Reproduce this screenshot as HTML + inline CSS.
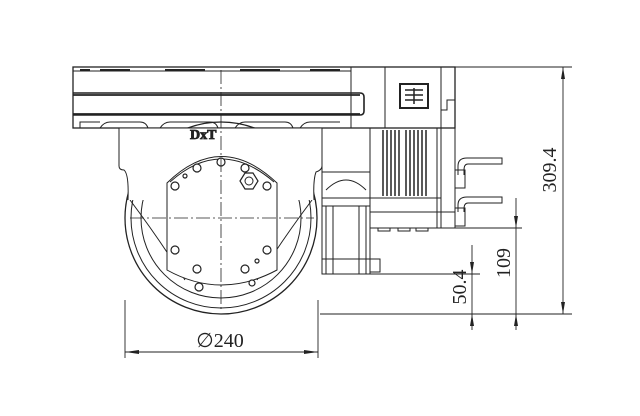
<!DOCTYPE html>
<html><head><style>
html,body{margin:0;padding:0;background:#fff;}
svg{display:block}
text{font-family:"Liberation Serif",serif;fill:#222}
</style></head><body>
<svg width="640" height="416" viewBox="0 0 640 416" xmlns="http://www.w3.org/2000/svg">
<g fill="none" stroke="#222" stroke-width="1">
<!-- top plate -->
<rect x="73" y="67" width="382" height="61" stroke-width="1.3"/>
<line x1="73" y1="71" x2="351" y2="71"/>
<path d="M73 93 H360 Q364 93 364 97 V111 Q364 115 360 115 H73" stroke-width="1.6"/>
<line x1="73" y1="95" x2="360" y2="95" stroke-width="1.8"/>
<line x1="73" y1="114" x2="360" y2="114" stroke-width="1.8"/>
<line x1="351" y1="67" x2="351" y2="128"/>
<line x1="385" y1="67" x2="385" y2="128"/>
<line x1="441" y1="67" x2="441" y2="128"/>
<rect x="400" y="84" width="28" height="24" stroke-width="2"/>
<path d="M405 90h18M405 95h18M405 100h18M414 88v16" stroke-width="1.5"/>
<path d="M441 110 h6 v-10 h8" />
<path d="M80 70h10M100 70h30M165 70h40M240 70h40M310 70h30" stroke-width="2"/>
<path d="M80 128 v-6 h20 M100 128 q4-6 10-6 h30 q6 0 8 6 M160 128 q4-6 10-6 h40 q6 0 8 6 M235 128 q4-6 10-6 h40 q6 0 8 6 M300 128 q4-6 10-6 h30"/>
<!-- wheel -->
<circle cx="221" cy="218" r="96" stroke-width="1.3"/>
<circle cx="221" cy="218" r="90"/>
<circle cx="221" cy="218" r="80"/>
<path d="M130 200 Q160 240 185 280 M312 200 Q282 240 257 280"/>
<!-- body covering top of wheel -->
<path d="M119 128 V166 Q119 170 124 170 Q129 174 128 200 H314 Q313 180 316 172 Q322 170 322 166 V128 Z" fill="#fff" stroke="none"/>
<path d="M119 128 V166 Q119 170 124 170 Q129 174 128 200 M322 128 V166 Q322 170 316 172 Q313 180 314 200"/>
<line x1="119" y1="128" x2="322" y2="128"/>
<text x="190" y="139" font-size="14" font-weight="bold" fill="none" stroke="#222" stroke-width="0.8">DxT</text>
<!-- hub plate -->
<path d="M167 183 Q221 130 277 183 V270 Q221 300 167 270 Z" fill="#fff"/>
<path d="M170 182 Q221 136 274 182"/>
<g fill="#fff" stroke-width="1.2">
<circle cx="221" cy="162" r="4"/><circle cx="197" cy="168" r="4"/><circle cx="245" cy="168" r="4"/>
<circle cx="175" cy="186" r="4"/><circle cx="267" cy="186" r="4"/>
<circle cx="175" cy="250" r="4"/><circle cx="267" cy="250" r="4"/>
<circle cx="197" cy="269" r="4"/><circle cx="245" cy="269" r="4"/>
<circle cx="199" cy="287" r="4"/><circle cx="252" cy="283" r="3"/>
<circle cx="185" cy="176" r="2"/><circle cx="257" cy="261" r="2"/>
</g>
<path d="M240 181 l5-8 h8 l5 8 l-5 8 h-8 z" fill="#fff" stroke-width="1.2"/>
<circle cx="249" cy="181" r="4"/>
<path d="M221 70 V310 M130 218 H314" stroke-dasharray="14 3 2 3" stroke-width="0.8"/>
<!-- motor lower module -->
<rect x="322" y="128" width="48" height="146"/>
<path d="M322 172 H370 M326 190 Q346 170 366 190 M322 198 H370 M322 206 H370"/>
<path d="M326 206 V274 M333 206 V274 M359 206 V274 M366 206 V274 M322 259 H380 V272 H370"/>
<!-- motor box -->
<rect x="370" y="128" width="71" height="100"/>
<path d="M441 128 V228 H455 V67"/>
<path d="M370 198 H441 M370 212 H455 M437 128 V228"/>
<g stroke-width="1.5"><path d="M383 130V196M387 130V196M391 130V196M395 130V196M399 130V196M406 130V196M410 130V196M414 130V196M418 130V196M422 130V196M426 130V196"/></g>
<path d="M378 228 v3 h12 v-3 M398 228 v3 h12 v-3 M416 228 v3 h12 v-3"/>
<!-- cables -->
<path d="M458 175 V166 Q458 158 467 158 H502 V164 H468 Q464 164 464 170 V175"/>
<path d="M458 212 V205 Q458 197 467 197 H502 V203 H468 Q464 203 464 209 V212"/>
<rect x="455" y="170" width="10" height="18"/><rect x="455" y="208" width="10" height="18"/>
<!-- dimension lines -->
<g stroke-width="0.9">
<line x1="455" y1="67" x2="572" y2="67"/>
<line x1="320" y1="314" x2="572" y2="314"/>
<line x1="370" y1="274" x2="480" y2="274"/>
<line x1="441" y1="228" x2="522" y2="228"/>
<line x1="563" y1="67" x2="563" y2="314"/>
<line x1="516" y1="198" x2="516" y2="330"/>
<line x1="472" y1="245" x2="472" y2="330"/>
<line x1="125" y1="300" x2="125" y2="358"/>
<line x1="318" y1="300" x2="318" y2="358"/>
<line x1="125" y1="352" x2="318" y2="352"/>
</g>
</g>
<g fill="#222">
<path d="M563 67 l-2 12 h4z M563 314 l-2 -12 h4z"/>
<path d="M516 228 l-2 -12 h4z M516 314 l-2 12 h4z"/>
<path d="M472 274 l-2 -12 h4z M472 314 l-2 12 h4z"/>
<path d="M125 352 l14 -2 v4z M318 352 l-14 -2 v4z"/>
</g>
<text x="220" y="347" font-size="20" text-anchor="middle">∅240</text>
<text transform="translate(556,170) rotate(-90)" font-size="20" text-anchor="middle">309.4</text>
<text transform="translate(510,263) rotate(-90)" font-size="20" text-anchor="middle">109</text>
<text transform="translate(466,287) rotate(-90)" font-size="20" text-anchor="middle">50.4</text>
</svg>
</body></html>
